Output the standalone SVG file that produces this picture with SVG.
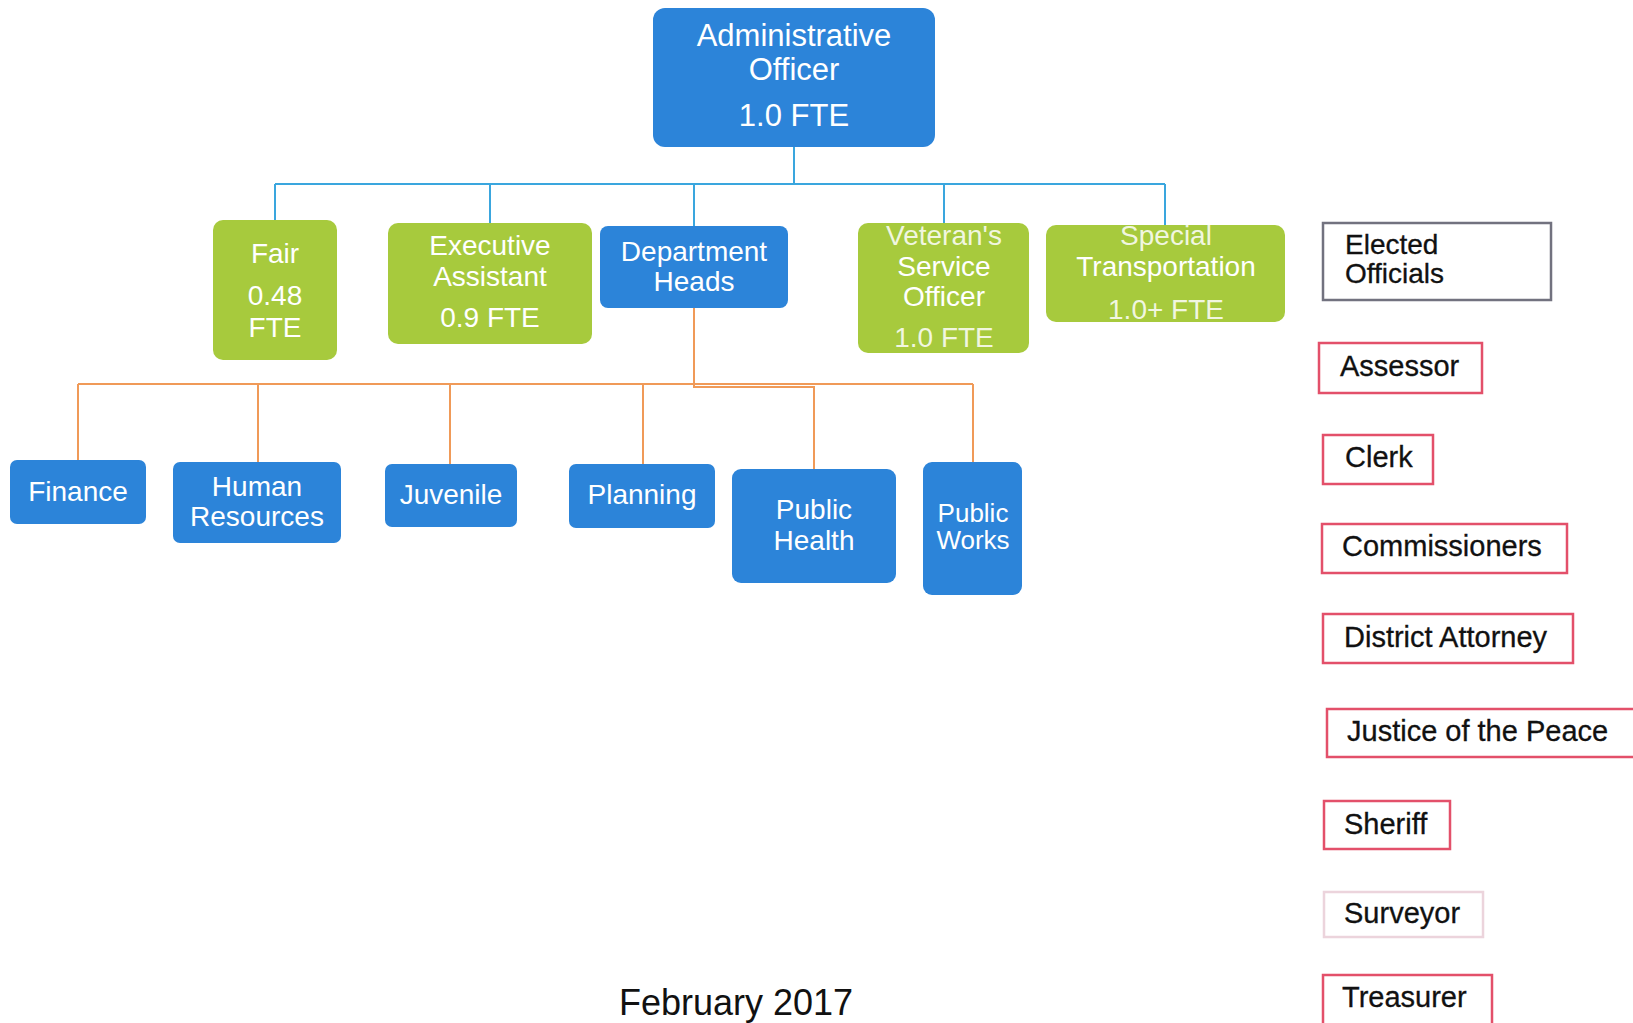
<svg xmlns="http://www.w3.org/2000/svg" width="1633" height="1023" viewBox="0 0 1633 1023">
  <style>
    .blue { fill: #2c84d9; }
    .green { fill: #a7ca3d; }
    .wt { fill: #ffffff; font-family: "Liberation Sans", Arial, sans-serif; font-size: 28px; text-anchor: middle; }
    .faint { fill-opacity: 0.85; }
    .bk { fill: #111111; font-family: "Liberation Sans", Arial, sans-serif; font-size: 29px; stroke: #111111; stroke-width: 0.3; }
    .eo { fill: #ffffff; stroke-width: 2.5; }
    .red { stroke: #e3506a; }
    .lb { fill: none; stroke: #3aa6de; stroke-width: 2; }
    .or { fill: none; stroke: #f09a58; stroke-width: 2; }
  </style>

  <rect width="1633" height="1023" fill="#ffffff"/>

  <!-- connectors -->
  <g id="connectors">
    <path class="lb" d="M794 147 V184 M275 184 H1165 M275 184 V220 M490 184 V223 M694 184 V226 M944 184 V223 M1165 184 V225"/>
    <path class="or" d="M694 308 V387 H814 V469 M78 384 H973 M78 384 V460 M258 384 V462 M450 384 V464 M643 384 V464 M973 384 V462"/>
  </g>

  <!-- top level -->
  <g id="administrative-officer">
    <rect class="blue" x="653" y="8" width="282" height="139" rx="12"/>
    <text class="wt" style="font-size:31px" x="794" y="46">Administrative</text>
    <text class="wt" style="font-size:31px" x="794" y="80">Officer</text>
    <text class="wt" style="font-size:31px" x="794" y="126">1.0 FTE</text>
  </g>

  <!-- second row -->
  <g id="fair">
    <rect class="green" x="213" y="220" width="124" height="140" rx="10"/>
    <text class="wt" x="275" y="263">Fair</text>
    <text class="wt" x="275" y="305">0.48</text>
    <text class="wt" x="275" y="337">FTE</text>
  </g>
  <g id="executive-assistant">
    <rect class="green" x="388" y="223" width="204" height="121" rx="10"/>
    <text class="wt" x="490" y="255">Executive</text>
    <text class="wt" x="490" y="286">Assistant</text>
    <text class="wt" x="490" y="327">0.9 FTE</text>
  </g>
  <g id="department-heads">
    <rect class="blue" x="600" y="226" width="188" height="82" rx="8"/>
    <text class="wt" x="694" y="261">Department</text>
    <text class="wt" x="694" y="291">Heads</text>
  </g>
  <g id="veterans-service-officer">
    <rect class="green" x="858" y="223" width="171" height="130" rx="10"/>
    <text class="wt faint" x="944" y="245">Veteran's</text>
    <text class="wt" x="944" y="276">Service</text>
    <text class="wt" x="944" y="306">Officer</text>
    <text class="wt faint" x="944" y="347">1.0 FTE</text>
  </g>
  <g id="special-transportation">
    <rect class="green" x="1046" y="225" width="239" height="97" rx="10"/>
    <text class="wt faint" x="1166" y="245">Special</text>
    <text class="wt" x="1166" y="276">Transportation</text>
    <text class="wt faint" x="1166" y="319">1.0+ FTE</text>
  </g>

  <!-- departments -->
  <g id="finance">
    <rect class="blue" x="10" y="460" width="136" height="64" rx="7"/>
    <text class="wt" x="78" y="501">Finance</text>
  </g>
  <g id="human-resources">
    <rect class="blue" x="173" y="462" width="168" height="81" rx="7"/>
    <text class="wt" x="257" y="496">Human</text>
    <text class="wt" x="257" y="526">Resources</text>
  </g>
  <g id="juvenile">
    <rect class="blue" x="385" y="464" width="132" height="63" rx="7"/>
    <text class="wt" x="451" y="504">Juvenile</text>
  </g>
  <g id="planning">
    <rect class="blue" x="569" y="464" width="146" height="64" rx="7"/>
    <text class="wt" x="642" y="504">Planning</text>
  </g>
  <g id="public-health">
    <rect class="blue" x="732" y="469" width="164" height="114" rx="9"/>
    <text class="wt" x="814" y="519">Public</text>
    <text class="wt" x="814" y="550">Health</text>
  </g>
  <g id="public-works">
    <rect class="blue" x="923" y="462" width="99" height="133" rx="9"/>
    <text class="wt" style="font-size:26px" x="973" y="522">Public</text>
    <text class="wt" style="font-size:26px" x="973" y="549">Works</text>
  </g>

  <!-- elected officials -->
  <g id="elected-officials">
    <rect class="eo" x="1323" y="223" width="228" height="77" stroke="#72727f"/>
    <text class="bk" style="font-size:28px" x="1345" y="254">Elected</text>
    <text class="bk" style="font-size:28px" x="1345" y="283">Officials</text>
  </g>
  <g id="assessor">
    <rect class="eo red" x="1319" y="343" width="163" height="50"/>
    <text class="bk" x="1340" y="376">Assessor</text>
  </g>
  <g id="clerk">
    <rect class="eo red" x="1323" y="435" width="110" height="49"/>
    <text class="bk" x="1345" y="467">Clerk</text>
  </g>
  <g id="commissioners">
    <rect class="eo red" x="1322" y="524" width="245" height="49"/>
    <text class="bk" x="1342" y="556">Commissioners</text>
  </g>
  <g id="district-attorney">
    <rect class="eo red" x="1323" y="614" width="250" height="49"/>
    <text class="bk" x="1344" y="647">District Attorney</text>
  </g>
  <g id="justice-of-the-peace">
    <rect class="eo red" x="1327" y="709" width="320" height="48"/>
    <text class="bk" x="1347" y="741">Justice of the Peace</text>
  </g>
  <g id="sheriff">
    <rect class="eo red" x="1324" y="801" width="126" height="48"/>
    <text class="bk" x="1344" y="834">Sheriff</text>
  </g>
  <g id="surveyor">
    <rect class="eo" x="1324" y="892" width="159" height="45" stroke="#ecd4dc" stroke-width="2"/>
    <text class="bk" x="1344" y="923">Surveyor</text>
  </g>
  <g id="treasurer">
    <rect class="eo red" x="1323" y="975" width="169" height="60"/>
    <text class="bk" x="1342" y="1007">Treasurer</text>
  </g>

  <!-- date -->
  <text x="736" y="1015" text-anchor="middle" font-family="'Liberation Sans', Arial, sans-serif" font-size="36" fill="#111111">February 2017</text>
</svg>
